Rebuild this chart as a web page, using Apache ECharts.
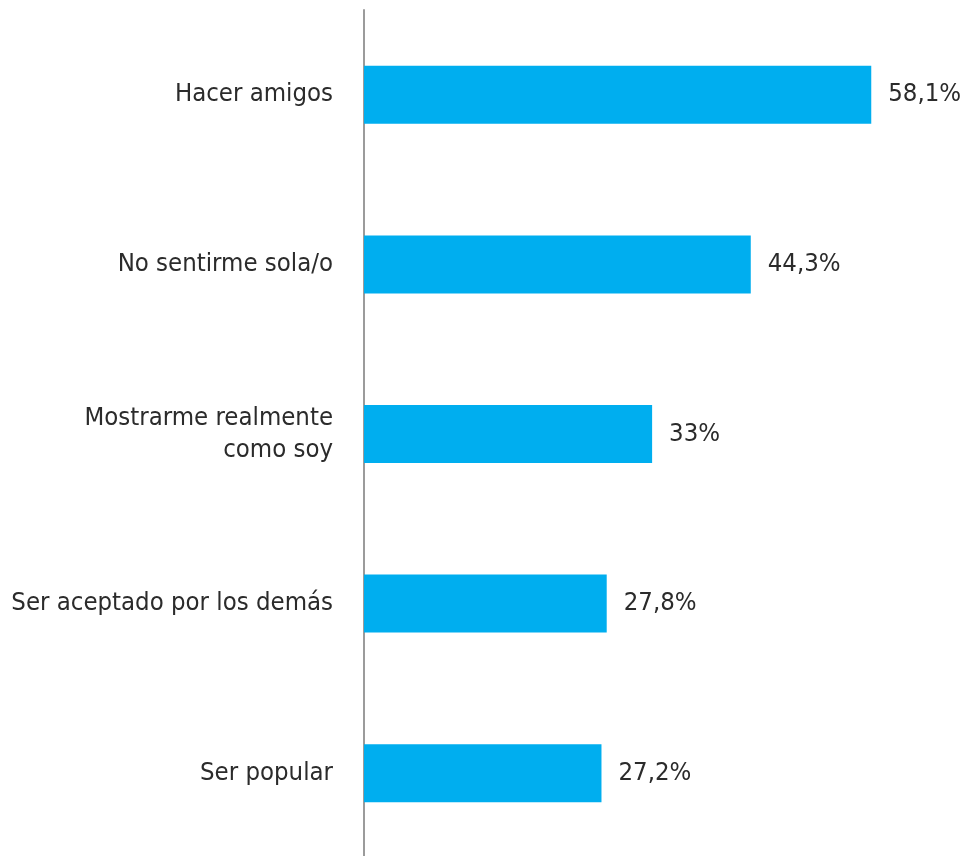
<!DOCTYPE html>
<html>
<head>
<meta charset="utf-8">
<script src="https://cdn.jsdelivr.net/npm/echarts@6/dist/echarts.min.js"></script>
<style>
html,body{margin:0;padding:0;background:#fff;}
#chart{width:964px;height:856px;}
</style>
</head>
<body>
<div id="chart"></div>
<script>
const categories = ["Hacer amigos", "No sentirme sola/o", "Mostrarme realmente\ncomo soy", "Ser aceptado por los demás", "Ser popular"];
const values = [58.1, 44.3, 33, 27.8, 27.2];
const valueLabels = ["58,1%", "44,3%", "33%", "27,8%", "27,2%"];

const FONT = "'Liberation Sans Narrow', 'DejaVu Sans Condensed', 'Roboto', sans-serif";
const chart = echarts.init(document.getElementById('chart'));
chart.setOption({
  backgroundColor: '#ffffff',
  animation: false,
  grid: { left: 364, top: 10, height: 848, right: 32.5, containLabel: false, outerBoundsMode: 'none' },
  xAxis: {
    type: 'value', min: 0, max: 65,
    show: false
  },
  yAxis: {
    type: 'category',
    data: categories,
    inverse: true,
    axisLine: { show: true, lineStyle: { color: '#9b9b9b', width: 2 } },
    axisTick: { show: false },
    axisLabel: {
      margin: 31,
      fontFamily: FONT,
      fontSize: 25.5,
      lineHeight: 32,
      color: '#2b2b2b',
      align: 'right'
    }
  },
  series: [{
    type: 'bar',
    data: values,
    barWidth: 58,
    itemStyle: { color: '#00aeef' },
    label: {
      show: true,
      position: 'right',
      distance: 17,
      fontFamily: FONT,
      fontSize: 25.5,
      color: '#2b2b2b',
      formatter: p => valueLabels[p.dataIndex]
    }
  }]
});
</script>
</body>
</html>
